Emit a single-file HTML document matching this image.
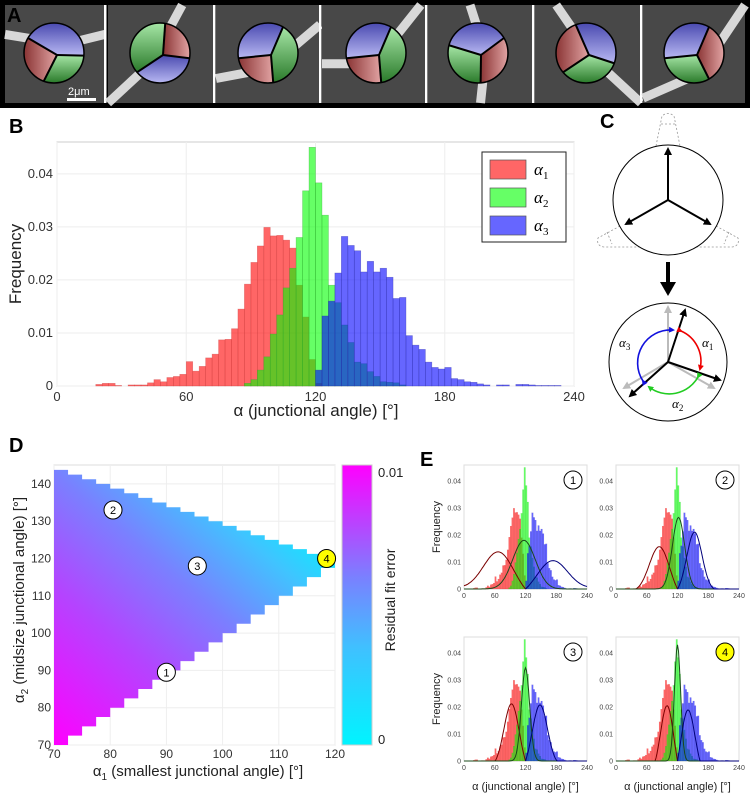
<!DOCTYPE html>
<html><head><meta charset="utf-8"><style>
body{margin:0;background:#fff;width:750px;height:799px;overflow:hidden}
svg{display:block;font-family:"Liberation Sans",sans-serif}
</style></head><body>
<svg id="fig" width="750" height="799" viewBox="0 0 750 799">
<defs>
<linearGradient id="gB" x1="0" y1="0" x2="0" y2="1"><stop offset="0" stop-color="#4a4ab0"/><stop offset="1" stop-color="#b8b8f2"/></linearGradient>
<linearGradient id="gR" x1="0" y1="0" x2="1" y2="0"><stop offset="0" stop-color="#8a3434"/><stop offset="1" stop-color="#e2a4a4"/></linearGradient>
<linearGradient id="gG" x1="0" y1="1" x2="0" y2="0"><stop offset="0" stop-color="#2a7a2a"/><stop offset="1" stop-color="#a6e6a6"/></linearGradient>
<marker id="ah" markerWidth="8" markerHeight="8" refX="6" refY="4" orient="auto" markerUnits="userSpaceOnUse"><path d="M0,0 L8,4 L0,8 Z" fill="#000"/></marker>
<marker id="ahg" markerWidth="8" markerHeight="8" refX="6" refY="4" orient="auto" markerUnits="userSpaceOnUse"><path d="M0,0 L8,4 L0,8 Z" fill="#bbb"/></marker>
<marker id="ahr" markerWidth="6" markerHeight="6" refX="4" refY="3" orient="auto" markerUnits="userSpaceOnUse"><path d="M0,0 L6,3 L0,6 Z" fill="#e00"/></marker>
<marker id="ahgr" markerWidth="6" markerHeight="6" refX="4" refY="3" orient="auto" markerUnits="userSpaceOnUse"><path d="M0,0 L6,3 L0,6 Z" fill="#2c2"/></marker>
<marker id="ahb" markerWidth="6" markerHeight="6" refX="4" refY="3" orient="auto" markerUnits="userSpaceOnUse"><path d="M0,0 L6,3 L0,6 Z" fill="#11d"/></marker>
<linearGradient id="gD" gradientUnits="userSpaceOnUse" x1="54" y1="745" x2="279" y2="484">
<stop offset="0" stop-color="#ff00ff"/><stop offset="0.35" stop-color="#b444ff"/><stop offset="0.6" stop-color="#7a80ff"/><stop offset="0.82" stop-color="#40c4ff"/><stop offset="1" stop-color="#00f4ff"/></linearGradient>
<linearGradient id="gCB" x1="0" y1="1" x2="0" y2="0"><stop offset="0" stop-color="#00f4ff"/><stop offset="0.35" stop-color="#40c0ff"/><stop offset="0.6" stop-color="#7a80ff"/><stop offset="1" stop-color="#ff00ff"/></linearGradient>
</defs>
<g id="panelA"></g>
<g id="panelB"></g>
<g id="panelC">
<text x="600" y="128" font-size="20" font-weight="bold">C</text>
<g fill="none" stroke="#999" stroke-width="0.8" stroke-dasharray="2,2">
<path d="M656,146 L662,116 Q668,111 674,116 L680,146"/><line x1="661" y1="124" x2="675" y2="124"/>
<path d="M620,226 L598,238 Q596,246 604,247 L640,247"/><path d="M716,226 L738,238 Q740,246 732,247 L696,247"/>
<line x1="607" y1="232" x2="612" y2="244"/><line x1="729" y1="232" x2="724" y2="244"/>
</g>
<circle cx="668" cy="200" r="55" fill="none" stroke="#000" stroke-width="1"/>
<g stroke="#000" stroke-width="2" marker-end="url(#ah)">
<line x1="668" y1="200" x2="668" y2="149"/><line x1="668" y1="200" x2="626" y2="224"/><line x1="668" y1="200" x2="710" y2="224"/></g>
<line x1="668" y1="262" x2="668" y2="286" stroke="#000" stroke-width="4"/>
<path d="M660,282 L676,282 L668,296 Z" fill="#000"/>
<circle cx="668" cy="362" r="59" fill="none" stroke="#000" stroke-width="1"/>
<g stroke="#bbb" stroke-width="2" marker-end="url(#ahg)"><line x1="668" y1="362" x2="668" y2="307"/><line x1="668" y1="362" x2="624" y2="388"/><line x1="668" y1="362" x2="714" y2="388"/></g>
<g stroke="#000" stroke-width="2" marker-end="url(#ah)"><line x1="668" y1="362" x2="685" y2="310"/><line x1="668" y1="362" x2="720" y2="380"/><line x1="668" y1="362" x2="630" y2="396"/></g>
<path d="M681,331 A33,33 0 0 1 700,369" fill="none" stroke="#e00" stroke-width="1.6" marker-start="url(#ahr)" marker-end="url(#ahr)"/>
<path d="M698,377 A33,33 0 0 1 649,387" fill="none" stroke="#2c2" stroke-width="1.6" marker-start="url(#ahgr)" marker-end="url(#ahgr)"/>
<path d="M643,381 A33,33 0 0 1 673,330" fill="none" stroke="#11d" stroke-width="1.6" marker-start="url(#ahb)" marker-end="url(#ahb)"/>
<text x="702" y="347" font-family="Liberation Serif,serif" font-style="italic" font-size="13">α<tspan font-size="9" dy="3" font-style="normal">1</tspan></text>
<text x="672" y="408" font-family="Liberation Serif,serif" font-style="italic" font-size="13">α<tspan font-size="9" dy="3" font-style="normal">2</tspan></text>
<text x="619" y="347" font-family="Liberation Serif,serif" font-style="italic" font-size="13">α<tspan font-size="9" dy="3" font-style="normal">3</tspan></text>
</g>
<g id="panelD"></g>
<g id="panelE"></g>
</svg>
<script>
// ---------- Data ----------
const binStart = 0, binWidth = 3;
const redFreq = [0,0,0,0,0,0,0.0003,0.0005,0.0005,0.0001,0,0.0002,0.0002,0.0002,0.0006,0.0012,0.0008,0.0016,0.0018,0.0022,0.0046,0.0028,0.0037,0.0053,0.006,0.0087,0.0088,0.0108,0.0145,0.0192,0.0233,0.0264,0.0299,0.0283,0.0284,0.0275,0.026,0.019,0.013,0.005,0.0005];
const greenFreq = [0,0,0,0,0,0,0,0,0,0,0,0,0,0,0,0,0,0,0,0,0,0,0,0,0,0,0,0,0,0.0005,0.0012,0.003,0.0055,0.0098,0.0134,0.0185,0.0222,0.028,0.0368,0.045,0.0383,0.0322,0.019,0.0157,0.0115,0.0082,0.0045,0.0042,0.0027,0.0018,0.0008,0.0007,0.0006,0.0002];
const blueFreq = [0,0,0,0,0,0,0,0,0,0,0,0,0,0,0,0,0,0,0,0,0,0,0,0,0,0,0,0,0,0,0,0,0,0,0,0,0,0,0,0,0.003,0.0132,0.016,0.0213,0.0282,0.0265,0.0255,0.0215,0.0235,0.0215,0.0222,0.0205,0.0165,0.0167,0.0095,0.0077,0.0069,0.0045,0.0035,0.0032,0.0035,0.0014,0.0012,0.0008,0.0007,0.0004,0.0002,0,0.0002,0.0002,0,0.0003,0.0003,0.0002,0.0001,0.0001,0.0001,0.0001];
const xTicks = [0,60,120,180,240];
const yTicks = [0,0.01,0.02,0.03,0.04];
const yTickLabels = ["0","0.01","0.02","0.03","0.04"];
const legendLabels = ["1","2","3"];
// Panel D
const dXTicks = [70,80,90,100,110,120];
const dYTicks = [70,80,90,100,110,120,130,140];
const dMarkerIds = ["1","2","3","4"];
const dMarkerA1 = [90,80.5,95.5,118.5];
const dMarkerA2 = [89.5,133,118,120];
// Panel E fit parameters (mean, sd, peak)
const fitMeanR = [68,85,93,100], fitSdR = [30,20,15,13], fitPeakR = [0.0157,0.0185,0.025,0.0275];
const fitMeanG = [117,122,120,120], fitSdG = [22,12,8,6], fitPeakG = [0.018,0.0265,0.0345,0.043];
const fitMeanB = [172,153,148,140], fitSdB = [30,15,15,14], fitPeakB = [0.012,0.0225,0.024,0.027];

const NS="http://www.w3.org/2000/svg";
function mk(tag, attrs, parent){const e=document.createElementNS(NS,tag);for(const k in attrs)e.setAttribute(k,attrs[k]);parent.appendChild(e);return e;}

// ---------- Panel A ----------
(function(){
 const g=document.getElementById('panelA');
 mk('rect',{x:0,y:0,width:750,height:108,fill:'#000'},g);
 const tileX=[5,108,216,322,428,535,643], tileW=[100,106,104,104,105,106,102];
 const cx=[54,160,268,376,478,586,694];
 // line directions listed in clockwise order (math degrees, y up)
 const lines=[[150,-5,-110],[80,-10,220],[190,60,-80],[190,60,-80],[165,30,-85],[110,-20,220],[190,60,-60]];
 const cols=[['gB','gG','gR'],['gR','gB','gG'],['gB','gG','gR'],['gB','gG','gR'],['gB','gR','gG'],['gB','gG','gR'],['gB','gR','gG']];
 const fil=[[[0,30,60,40,100,30]],[[70,0,40,60,0,100]],[[0,75,50,65,100,20]],[[0,60,50,60,95,0]],[[40,0,55,50,50,100]],[[20,0,55,55,100,100]],[[0,95,55,70,100,0]]];
 for(let i=0;i<7;i++){
  const t=mk('g',{},g);
  
  
  mk('rect',{x:tileX[i],y:5,width:tileW[i],height:98,fill:'#484848'},t);
  fil[i].forEach(f=>{mk('polyline',{points:`${tileX[i]+f[0]*tileW[i]/100},${5+f[1]*0.98} ${tileX[i]+f[2]*tileW[i]/100},${5+f[3]*0.98} ${tileX[i]+f[4]*tileW[i]/100},${5+f[5]*0.98}`,fill:'none',stroke:'#e8e8e8','stroke-width':9,opacity:0.9},t);});
  if(i<6) mk('rect',{x:tileX[i]+tileW[i]-1,y:5,width:2.5,height:98,fill:'#fff'},t);
  const L=lines[i], r=30, ry=30, c=cx[i], cy=53;
  const jx=c+3, jy=cy+2;
  for(let s=0;s<3;s++){
   const d1=L[s], d2=L[(s+1)%3];
   const a1=d1*Math.PI/180, a2=d2*Math.PI/180;
   const sweep=((d1-d2)%360+360)%360;
   const p1=[c+r*Math.cos(a1),cy-ry*Math.sin(a1)], p2=[c+r*Math.cos(a2),cy-ry*Math.sin(a2)];
   mk('path',{d:`M${jx},${jy} L${p1[0]},${p1[1]} A${r},${ry} 0 ${sweep>180?1:0} 1 ${p2[0]},${p2[1]} Z`,fill:`url(#${cols[i][s]})`},t);
  }
  for(let s=0;s<3;s++){const a=L[s]*Math.PI/180;mk('line',{x1:jx,y1:jy,x2:c+r*Math.cos(a),y2:cy-ry*Math.sin(a),stroke:'#000','stroke-width':2},t);}
  mk('ellipse',{cx:c,cy:cy,rx:r,ry:ry,fill:'none',stroke:'#000','stroke-width':1.5},t);
 }
 const lbl=mk('text',{x:7,y:22,'font-size':20,'font-weight':'bold',fill:'#000'},g);lbl.textContent='A';
 
 
 const sb=mk('text',{x:68,y:95,'font-size':11,fill:'#fff'},g);sb.textContent='2μm';
 
 
 mk('rect',{x:67,y:98,width:29,height:3,fill:'#fff'},g);
})();

// ---------- histogram helper ----------
function drawHist(g, X, Y, sw){
 const sets=[[redFreq,'rgba(255,0,0,0.6)','#c44','hist-bar-alpha1'],[greenFreq,'rgba(0,255,0,0.6)','#3a3','hist-bar-alpha2'],[blueFreq,'rgba(0,0,255,0.6)','#33a','hist-bar-alpha3']];
 sets.forEach(s=>{
  s[0].forEach((v,i)=>{ if(v<=0) return;
   const x0=X(binStart+i*binWidth), x1=X(binStart+(i+1)*binWidth);
   const r=mk('rect',{x:x0,y:Y(v),width:x1-x0,height:Y(0)-Y(v),fill:s[1],stroke:s[2],'stroke-width':sw,'stroke-opacity':0.5},g);
   
   
  });
 });
}

// ---------- Panel B ----------
(function(){
 const g=document.getElementById('panelB');
 const L=57,R=574,T=142,B=386,ymax=0.046;
 const X=v=>L+(v/240)*(R-L), Y=v=>B-(v/ymax)*(B-T);
 const lb=mk('text',{x:9,y:133,'font-size':20,'font-weight':'bold'},g);lb.textContent='B';
 
 
 mk('rect',{x:L,y:T,width:R-L,height:B-T,fill:'#fff',stroke:'#ccc','stroke-width':1},g);
 xTicks.forEach(t=>{mk('line',{x1:X(t),y1:T,x2:X(t),y2:B,stroke:'#eee'},g);
  const tx=mk('text',{x:X(t),y:B+15,'font-size':13,'text-anchor':'middle',fill:'#333'},g);tx.textContent=t;
  
  });
 yTicks.forEach((t,i)=>{mk('line',{x1:L,y1:Y(t),x2:R,y2:Y(t),stroke:'#eee'},g);
  const tx=mk('text',{x:L-4,y:Y(t)+4,'font-size':13,'text-anchor':'end',fill:'#333'},g);tx.textContent=yTickLabels[i];
  
  });
 drawHist(g,X,Y,0.6);
 const xl=mk('text',{x:316,y:416,'font-size':17,'text-anchor':'middle',fill:'#222'},g);xl.textContent='α (junctional angle) [°]';
 
 
 const yl=mk('text',{x:0,y:0,'font-size':17,'text-anchor':'middle',fill:'#222',transform:'translate(21,264) rotate(-90)'},g);yl.textContent='Frequency';
 
 
 const lg=mk('g',{},g);
 
 
 mk('rect',{x:482,y:152,width:84,height:90,fill:'#fff',stroke:'#222','stroke-width':1},lg);
 const lc=['rgba(255,0,0,0.6)','rgba(0,255,0,0.6)','rgba(0,0,255,0.6)'];
 legendLabels.forEach((l,i)=>{
  const e=mk('g',{},lg);
  
  
  mk('rect',{x:490,y:160+i*28,width:36,height:19,fill:lc[i],stroke:'#555','stroke-width':0.7},e);
  const t=mk('text',{x:534,y:175+i*28,'font-size':17,'font-family':'Liberation Serif,serif','font-style':'italic'},e);
  t.innerHTML='α<tspan font-size="11" font-style="normal" dy="4">'+l+'</tspan>';
 });
})();

// ---------- Panel D ----------
(function(){
 const g=document.getElementById('panelD');
 const L=54,R=335,B=745,yPerUnit=37.3;
 const X=v=>L+(v-70)/50*(R-L), Y=v=>B-(v-70)*yPerUnit/10;
 const lb=mk('text',{x:9,y:452,'font-size':20,'font-weight':'bold'},g);lb.textContent='D';
 
 
 mk('rect',{x:L,y:465,width:R-L,height:B-465,fill:'#fff',stroke:'#ddd'},g);
 dXTicks.forEach(t=>{mk('line',{x1:X(t),y1:465,x2:X(t),y2:B,stroke:'#eee'},g);
  const tx=mk('text',{x:X(t),y:B+13,'font-size':12,'text-anchor':'middle',fill:'#333'},g);tx.textContent=t;
  
  });
 dYTicks.forEach(t=>{mk('line',{x1:L,y1:Y(t),x2:R,y2:Y(t),stroke:'#eee'},g);
  const tx=mk('text',{x:L-3,y:Y(t)+4,'font-size':12,'text-anchor':'end',fill:'#333'},g);tx.textContent=t;
  
  });
 const s=2.5, u=a=>(360-a)/2; let pts=[];
 for(let a=70;a<120-1e-9;a+=s){pts.push([a,a],[a+s,a],[a+s,a+s]);}
 for(let a=120;a>70+1e-9;a-=s){pts.push([a,u(a)],[a-s,u(a)],[a-s,u(a-s)]);}
 const poly=mk('polygon',{points:pts.map(p=>X(p[0])+','+Y(p[1])).join(' '),fill:'url(#gD)','stroke-linejoin':'round'},g);
 
 
 dMarkerIds.forEach((id,i)=>{
  const m=mk('g',{},g);
  
  
  mk('circle',{cx:X(dMarkerA1[i]),cy:Y(dMarkerA2[i]),r:9,fill:id==='4'?'#ffff00':'#fff',stroke:'#000','stroke-width':1},m);
  const t=mk('text',{x:X(dMarkerA1[i]),y:Y(dMarkerA2[i])+4,'font-size':11,'text-anchor':'middle'},m);t.textContent=id;
 });
 mk('rect',{x:342,y:465,width:30,height:280,fill:'url(#gCB)',stroke:'#ccc'},g);
 const c1=mk('text',{x:378,y:477,'font-size':13,fill:'#222'},g);c1.textContent='0.01';
 
 
 const c0=mk('text',{x:378,y:744,'font-size':13,fill:'#222'},g);c0.textContent='0';
 
 
 const ct=mk('text',{'font-size':14,'text-anchor':'middle',fill:'#222',transform:'translate(395,600) rotate(-90)'},g);ct.textContent='Residual fit error';
 
 
 const xl=mk('text',{x:198,y:776,'font-size':15,'text-anchor':'middle',fill:'#222'},g);
 xl.innerHTML='α<tspan font-size="10" dy="4">1</tspan><tspan dy="-4"> (smallest junctional angle) [°]</tspan>';
 
 
 const yl=mk('text',{'font-size':15,'text-anchor':'middle',fill:'#222',transform:'translate(24,600) rotate(-90)'},g);
 yl.innerHTML='α<tspan font-size="10" dy="4">2</tspan><tspan dy="-4"> (midsize junctional angle) [°]</tspan>';
 
 
})();

// ---------- Panel E ----------
(function(){
 const g=document.getElementById('panelE');
 const lb=mk('text',{x:420,y:466,'font-size':20,'font-weight':'bold'},g);lb.textContent='E';
 
 
 const lefts=[464,616,464,616], bottoms=[589,589,761,761];
 for(let k=0;k<4;k++){
  const L=lefts[k],R=L+123,B=bottoms[k],T=B-124,ymax=0.0459;
  const X=v=>L+v/240*(R-L), Y=v=>B-v/ymax*(B-T);
  const sg=mk('g',{},g);
  
  
  mk('rect',{x:L,y:T,width:R-L,height:B-T,fill:'#fff',stroke:'#ddd'},sg);
  xTicks.forEach(t=>{const tx=mk('text',{x:X(t),y:B+9,'font-size':7,'text-anchor':'middle',fill:'#444'},sg);tx.textContent=t;});
  yTicks.forEach((t,i)=>{const tx=mk('text',{x:L-3,y:Y(t)+2.5,'font-size':7,'text-anchor':'end',fill:'#444'},sg);tx.textContent=yTickLabels[i];});
  drawHist(sg,X,Y,0.2);
  const fits=[[fitMeanR,fitSdR,fitPeakR,'#7a0000',0,120,'fit-curve-alpha1'],[fitMeanG,fitSdG,fitPeakG,'#1a4a1a',0,240,'fit-curve-alpha2'],[fitMeanB,fitSdB,fitPeakB,'#00007a',120,240,'fit-curve-alpha3']];
  fits.forEach(f=>{
   const m=f[0][k],sd=f[1][k],p=f[2][k];let d='';
   for(let a=f[4];a<=f[5];a+=2){let v=p*Math.exp(-0.5*((a-m)/sd)**2);
    if(f[4]===0&&f[5]===120) v=v-p*Math.exp(-0.5*((120-m)/sd)**2)*(a/120);
    if(f[4]===120) v=v-p*Math.exp(-0.5*((120-m)/sd)**2)*((240-a)/120);
    v=Math.max(v,0);
    d+=(d?'L':'M')+X(a).toFixed(1)+','+Y(v).toFixed(1);}
   const c=mk('path',{d:d,fill:'none',stroke:f[3],'stroke-width':1},sg);
   
   
  });
  mk('circle',{cx:R-14,cy:T+15,r:9,fill:k===3?'#ffff00':'#fff',stroke:'#000','stroke-width':1},sg);
  const n=mk('text',{x:R-14,y:T+19,'font-size':11,'text-anchor':'middle'},sg);n.textContent=dMarkerIds[k];
  if(k%2===0){const yl=mk('text',{'font-size':11,'text-anchor':'middle',fill:'#222',transform:`translate(${L-24},${(T+B)/2}) rotate(-90)`},sg);yl.textContent='Frequency';}
  if(k>=2){const xl=mk('text',{x:(L+R)/2,y:790,'font-size':11,'text-anchor':'middle',fill:'#222'},sg);xl.textContent='α (junctional angle) [°]';}
 }
})();
</script>
</body></html>
